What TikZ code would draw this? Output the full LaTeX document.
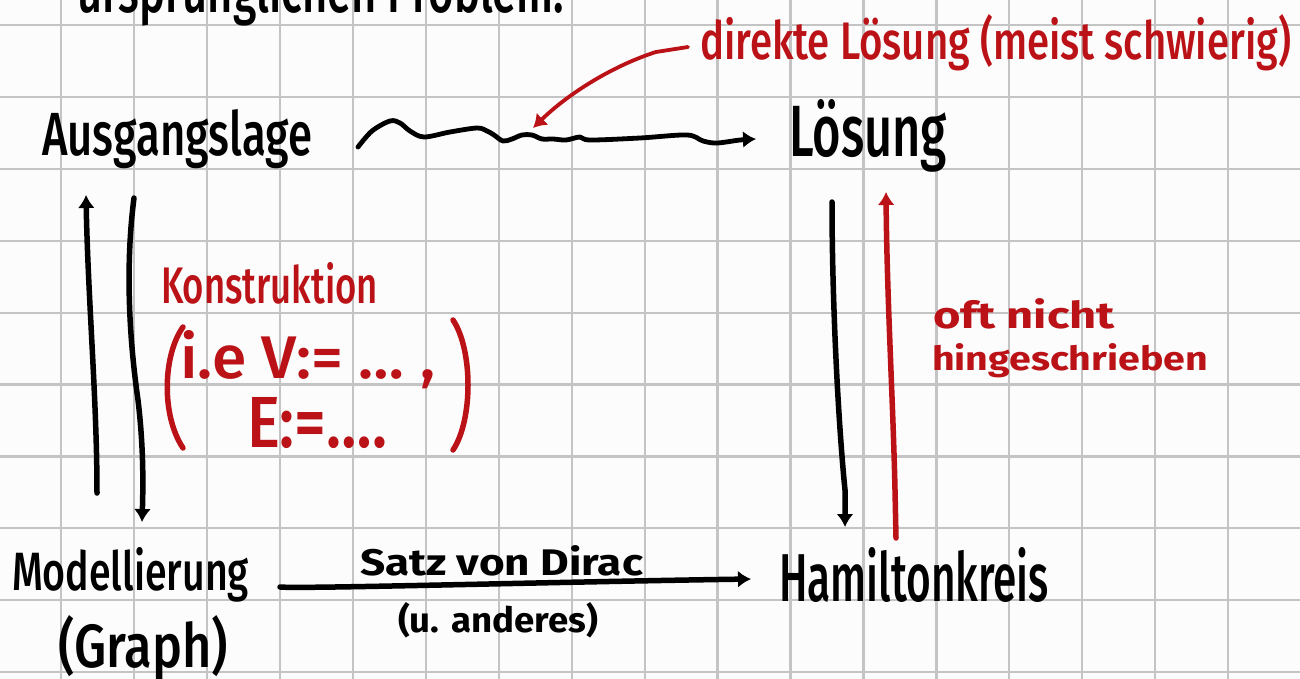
\documentclass[tikz,border=0pt]{standalone}
\usepackage{fontspec}
\setmainfont{Fira Sans}
\newfontfamily\handmedium{Fira Sans Medium}
\usepackage{graphicx}
\usetikzlibrary{arrows.meta,calc}
\definecolor{handred}{RGB}{186,18,22}
\definecolor{paper}{RGB}{252,252,252}
\definecolor{gridgray}{RGB}{196,196,196}
% text boxes of given width and height (in pt) above the baseline:
% \handtext in a medium weight for large words, \handbold for small ones
\newcommand{\handtext}[3]{\resizebox{#1pt}{#2pt}{\handmedium #3}}
\newcommand{\handbold}[3]{\resizebox{#1pt}{#2pt}{\bfseries #3}}

\begin{document}
\begin{tikzpicture}[x=1pt,y=-1pt,
  hand/.style={anchor=base west, inner sep=0pt, outer sep=0pt},
  redhand/.style={hand, text=handred},
  pen/.style={line width=5.5pt, line cap=round, line join=round},
  blackarrow/.style={pen, -{Latex[length=13pt,width=17pt]}},
  redarrow/.style={pen, handred, -{Latex[length=13pt,width=17pt]}},
  gridline/.style={gridgray, line width=2.2pt}]

\useasboundingbox (0,0) rectangle (1300,679);
\clip (0,0) rectangle (1300,679);
\fill[paper] (0,0) rectangle (1300,679);

% squared paper
\foreach \i in {0,...,17} \draw[gridline] (61+72.95*\i,0) -- (61+72.95*\i,679);
\foreach \j in {0,...,9} \draw[gridline] (0,25+71.9*\j) -- (1300,25+71.9*\j);

% labels
\node[hand] (prob) at (77,13) {\handtext{487}{50}{ursprünglichen Problem.}};
\node[hand] (ausg) at (42,156) {\handtext{270}{46}{Ausgangslage}};
\node[hand] (loes) at (789,157) {\handtext{158}{57}{Lösung}};
\node[redhand] (dir) at (700,60) {\handtext{591}{45}{direkte Lösung (meist schwierig)}};
\node[redhand] (konst) at (161,303) {\handtext{217}{41}{Konstruktion}};
\node[redhand] (ie) at (180,378) {\handtext{255}{48}{i.e V:= \dots\ ,}};
\node[redhand] (edef) at (247,447) {\handtext{140}{50}{E:=\dots.}};
\node[redhand] (oft) at (933,328) {\handbold{182}{30}{oft nicht}};
\node[redhand] (hing) at (932,370) {\handbold{276}{27}{hingeschrieben}};
\node[hand] (model) at (12,590) {\handtext{237}{43}{Modellierung}};
\node[hand] (graph) at (58,667) {\handtext{170}{52}{(Graph)}};
\node[hand] (satz) at (360,575) {\handbold{283}{30}{Satz von Dirac}};
\node[hand] (und) at (398,632) {\handbold{200}{30}{(u. anderes)}};
\node[hand] (ham) at (779,601) {\handtext{270}{54}{Hamiltonkreis}};

% large parentheses around the construction
\draw[pen, handred] (183,327) .. controls (163,355) and (161,415) .. (183,448);
\draw[pen, handred] (453,320) .. controls (473,350) and (473,420) .. (453,450);

% direct way: wavy arrow
\draw[blackarrow, line width=4.8pt] plot[smooth, tension=0.55] coordinates {
  ($(ausg.base west)+(316,-9)$) (372,131) (390,121) (400,123) (410,131) (424,137)
  (450,132) (477,128) (487,131) (494,135) (503,141) (512,139) (522,135) (532,135)
  (542,139) (553,139) (566,140) (580,137) (590,140) (640,138) (687,135) (703,141)
  (717,143) (740,140) ($(loes.base west)+(-33,-18)$)};

% pointer from the red note to the wavy arrow
\draw[redarrow, line width=3.8pt] ($(dir.base west)+(-12,-13)$) -- (656,52)
  .. controls (615,65) and (570,92) .. (533,128);

% left column
\draw[blackarrow] ($(model.base west)+(85,-97)$) .. controls (97,400) and (88,300) .. ($(ausg.base west)+(44,39)$);
\draw[blackarrow] ($(ausg.base west)+(92,42)$) .. controls (126,260) and (128,330) .. (138,400)
  .. controls (144,450) and (143,490) .. ($(model.base west)+(130,-68)$);

% right column
\draw[blackarrow] ($(loes.base west)+(43,45)$) .. controls (832,300) and (838,420) .. (845,490)
  -- ($(ham.base west)+(66,-74)$);
\draw[redarrow] ($(ham.base west)+(117,-63)$) -- (895,490) .. controls (893,400) and (887,300) .. ($(loes.base west)+(97,35)$);

% bottom arrow
\draw[blackarrow] ($(model.base west)+(268,-3)$) .. controls (300,589) and (550,582) .. ($(ham.base west)+(-28,-22)$);

\end{tikzpicture}
\end{document}
